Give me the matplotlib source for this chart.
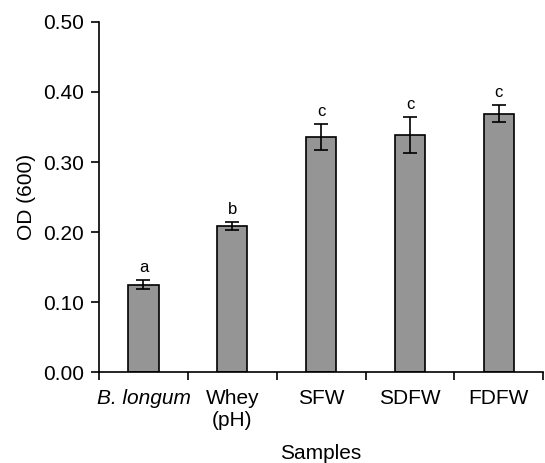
import matplotlib.pyplot as plt

plt.rcParams['font.family'] = ['Liberation Sans', 'DejaVu Sans']

samples = ['B. longum', 'Whey\n(pH)', 'SFW', 'SDFW', 'FDFW']
od = [0.125, 0.209, 0.336, 0.339, 0.369]
err = [0.006, 0.006, 0.019, 0.026, 0.012]
letters = ['a', 'b', 'c', 'c', 'c']

fig = plt.figure(figsize=(5.45, 4.63), dpi=100)
ax = fig.add_axes([0.1817, 0.1965, 0.815, 0.756])

pos = [i + 0.5 for i in range(len(samples))]
ax.bar(pos, od, width=0.34, color='#959595', edgecolor='black', linewidth=1.2,
       yerr=err, capsize=5, error_kw=dict(elinewidth=1.2, capthick=1.2, ecolor='black'))

for x, v, e, l in zip(pos, od, err, letters):
    ax.text(x, v + e + 0.007, l, ha='center', va='bottom', fontsize=12)

ax.set_xlim(0, 5)
ax.set_ylim(0, 0.5)
ax.set_yticks([0, 0.1, 0.2, 0.3, 0.4, 0.5])
ax.set_yticklabels(['0.00', '0.10', '0.20', '0.30', '0.40', '0.50'], fontsize=15)
ax.set_xticks(range(6))
ax.set_xticklabels([])
ax.set_xticks(pos, minor=True)
ax.set_xticklabels(samples, minor=True, fontsize=15, linespacing=1.25)
ax.tick_params(axis='x', which='minor', length=0, pad=12)
ax.tick_params(axis='x', which='major', length=6, width=1.2, direction='out')
ax.tick_params(axis='y', length=6, width=1.2, direction='out', pad=5)
ax.get_xticklabels(minor=True)[0].set_style('italic')

for s in ['top', 'right']:
    ax.spines[s].set_visible(False)
for s in ['left', 'bottom']:
    ax.spines[s].set_linewidth(1.2)

ax.set_ylabel('OD (600)', fontsize=15, labelpad=5)
ax.set_xlabel('Samples', fontsize=15, labelpad=10)

fig.savefig('out.png', dpi=100)
